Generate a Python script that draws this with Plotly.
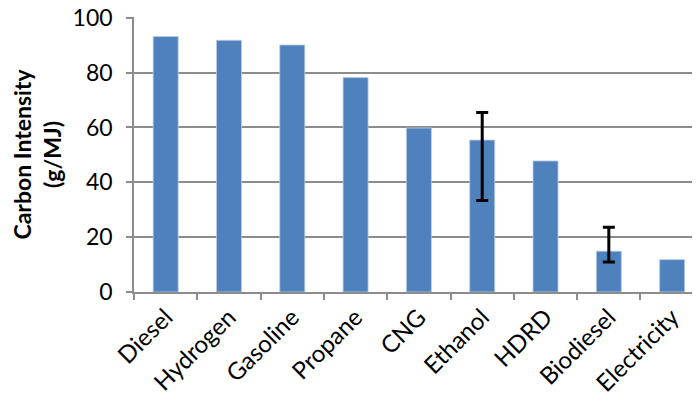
import plotly.graph_objects as go

categories = ["Diesel", "Hydrogen", "Gasoline", "Propane", "CNG", "Ethanol", "HDRD", "Biodiesel", "Electricity"]
values = [93.2, 91.8, 90.1, 78.2, 59.8, 55.4, 47.8, 14.9, 11.8]

err_categories = ["Ethanol", "Biodiesel"]
err_values = [55.4, 14.9]
err_plus = [10.1, 8.7]
err_minus = [22.0, 4.0]

y_ticks = [0, 20, 40, 60, 80, 100]

FONT = "Lato, Open Sans, sans-serif"

fig = go.Figure()
fig.add_trace(go.Bar(
    x=categories, y=values,
    marker=dict(color="#4F81BD", line=dict(color="#B9CDE5", width=0.8)),
    showlegend=False,
))
fig.add_trace(go.Scatter(
    x=err_categories, y=err_values, mode="markers",
    marker=dict(opacity=0, size=1),
    error_y=dict(type="data", symmetric=False, array=err_plus, arrayminus=err_minus,
                 color="black", thickness=3, width=6),
    showlegend=False,
))

# page body has an 8px margin; compensate so the plot area lands at x 134..700, y ~17..292
fig.update_layout(
    width=700, height=402,
    margin=dict(l=126, r=8, t=9, b=118),
    plot_bgcolor="white", paper_bgcolor="white",
    bargap=0.605,
    font=dict(family=FONT, size=24, color="black"),
    xaxis=dict(
        range=[-0.5, 8.44],
        automargin=False,
        tickangle=-45,
        showline=True, linecolor="#8C8C8C", linewidth=1.5,
        ticks="outside", ticklen=6, tickcolor="#8C8C8C", tickwidth=1.5,
        tickson="boundaries",
        showgrid=False,
        tickfont=dict(size=24),
    ),
    yaxis=dict(
        range=[0, 100.3],
        automargin=False,
        tickvals=y_ticks,
        ticklabeloverflow="allow",
        showline=True, linecolor="#8C8C8C", linewidth=1.5,
        ticks="outside", ticklen=6, tickcolor="#8C8C8C", tickwidth=1.5,
        showgrid=True, gridcolor="#8C8C8C", gridwidth=1.5,
        zeroline=False,
        tickfont=dict(size=23),
        ticklabelstandoff=9,
        title=dict(text="<b>Carbon Intensity<br>(g/MJ)</b>", font=dict(size=23), standoff=11),
    ),
)

fig.write_html("out.html")
